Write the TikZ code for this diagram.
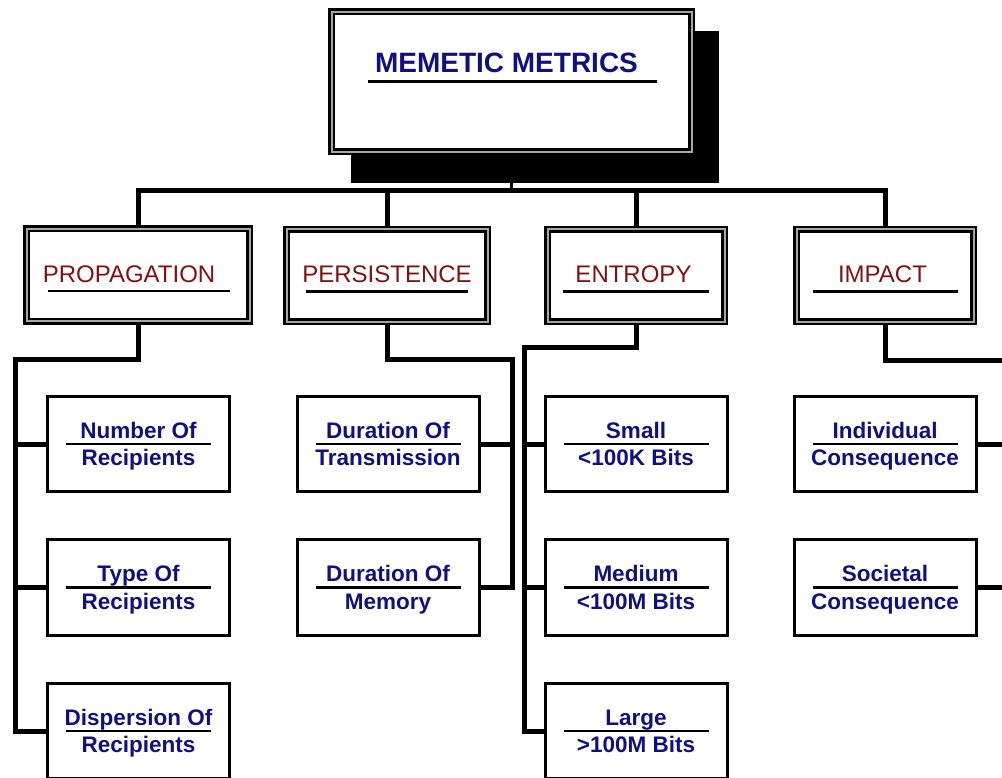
\documentclass[tikz,border=0pt]{standalone}
\usepackage{fontspec}
\setmainfont{Liberation Sans}
\usetikzlibrary{backgrounds}
\definecolor{memnavy}{RGB}{16,16,128}
\definecolor{memred}{RGB}{128,18,18}

% leaf box: name, x, y, first line, second line
\newcommand{\memleaf}[5]{%
  \node[leafbox] (#1) at (#2,#3) {};
  \node[leaftext, anchor=base] (#1-a) at ([yshift=6pt]#1.center) {#4};
  \node[leaftext, anchor=base] (#1-b) at ([yshift=-21.5pt]#1.center) {#5};
  \draw[uline] ([xshift=-72.5pt]#1.center) -- ([xshift=72.5pt]#1.center);
}
% category box: name, x, y, width, label, label shift, underline left, underline right
\newcommand{\memcat}[8]{%
  \node[catbox, minimum width=#4pt] (#1) at (#2,#3) {};
  \node[cattext, anchor=base] (#1-t) at ([shift={(#6pt,-7pt)}]#1.center) {#5};
  \draw[uline] ([shift={(#7pt,-16pt)}]#1.center) -- ([shift={(#8pt,-16pt)}]#1.center);
}

\begin{document}
\begin{tikzpicture}[x=1pt,y=-1pt,
  framed/.style={rectangle, draw=black, double=black!35, double distance=2pt,
    line width=2.4pt, fill=white, inner sep=0pt},
  catbox/.style={framed, minimum height=92.5pt},
  topbox/.style={framed, minimum width=360pt, minimum height=140pt},
  leafbox/.style={rectangle, draw=black, line width=3pt, fill=white, inner sep=0pt,
    minimum width=182pt, minimum height=95.5pt},
  titletext/.style={inner sep=0pt, text=memnavy, font=\fontsize{28}{32}\selectfont\bfseries},
  cattext/.style={inner sep=0pt, text=memred, font=\fontsize{24}{28}\selectfont},
  leaftext/.style={inner sep=0pt, text=memnavy, font=\fontsize{22.5}{26}\selectfont\bfseries},
  uline/.style={draw=black, line width=2.5pt},
  conn/.style={draw=black, line width=5pt, line join=miter},
]
\clip (0,0) rectangle (1002,777);

% title box with its offset shadow
\node[topbox] (top) at (511.5,81.5) {};
\begin{scope}[on background layer]
  \fill[white] (0,0) rectangle (1002,777);
  \fill[black] ([shift={(20.5,20.5)}]top.north west) rectangle ([shift={(26.5,30.5)}]top.south east);
\end{scope}
\node[titletext, anchor=base] (title) at ([shift={(-5pt,9.5pt)}]top.center) {MEMETIC METRICS};
\draw[uline, line width=3pt] ([xshift=-143.5pt]top.center) -- ([xshift=145.5pt]top.center);

% categories
\memcat{prop}{138}{275}{223}{PROPAGATION}{-9}{-90}{92}
\memcat{pers}{387}{275.5}{201}{PERSISTENCE}{0}{-81}{81}
\memcat{ent}{636}{275.5}{177}{ENTROPY}{-2.5}{-73}{73}
\memcat{imp}{885}{275.5}{177}{IMPACT}{-2.5}{-72}{73}

% leaves
\memleaf{p1}{138.5}{444}{Number Of}{Recipients}
\memleaf{p2}{138.5}{587.5}{Type Of}{Recipients}
\memleaf{p3}{138.5}{731}{Dispersion Of}{Recipients}
\memleaf{s1}{388}{444}{Duration Of}{Transmission}
\memleaf{s2}{388}{587.5}{Duration Of}{Memory}
\memleaf{e1}{636}{444}{Small}{<100K Bits}
\memleaf{e2}{636}{587.5}{Medium}{<100M Bits}
\memleaf{e3}{636}{731}{Large}{>100M Bits}
\memleaf{i1}{885}{444}{Individual}{Consequence}
\memleaf{i2}{885}{587.5}{Societal}{Consequence}

% connector junctions
\coordinate (bus) at (511.5,190);
\coordinate (pL) at (15,359);
\coordinate (sR) at (512,359);
\coordinate (eL) at (524,347);
\coordinate (iR) at (1012,360);

% title to categories
\draw[conn, line width=3pt] (top.south) -- (bus);
\draw[conn] (prop.north) |- (bus) -| (imp.north);
\draw[conn] (pers.north) -- (pers.north |- bus);
\draw[conn] (ent.north) -- (ent.north |- bus);

% propagation
\draw[conn] (prop.south) |- (pL) -- (pL |- p3.west) -- (p3.west);
\draw[conn] (pL |- p1.west) -- (p1.west);
\draw[conn] (pL |- p2.west) -- (p2.west);

% persistence
\draw[conn] (pers.south) |- (sR) -- (sR |- s2.east) -- (s2.east);
\draw[conn] (sR |- s1.east) -- (s1.east);

% entropy
\draw[conn] (ent.south) |- (eL) -- (eL |- e3.west) -- (e3.west);
\draw[conn] (eL |- e1.west) -- (e1.west);
\draw[conn] (eL |- e2.west) -- (e2.west);

% impact
\draw[conn] (imp.south) |- (iR);
\draw[conn] (i1.east) -- (i1.east -| iR);
\draw[conn] (i2.east) -- (i2.east -| iR);
\end{tikzpicture}
\end{document}
